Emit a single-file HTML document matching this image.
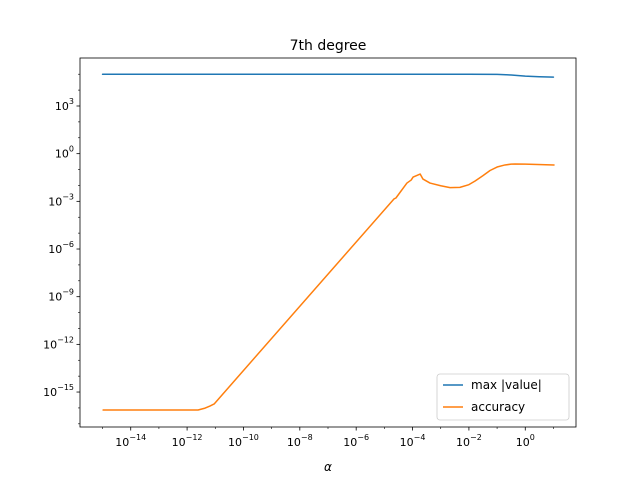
<!DOCTYPE html>
<html><head><meta charset="utf-8"><style>body{margin:0;background:#fff}svg{display:block}text{font-family:"DejaVu Sans","Liberation Sans",sans-serif}</style></head>
<body>
<svg id="chart" width="640" height="480" xmlns="http://www.w3.org/2000/svg"></svg>
<script>
const blueX=[-15,-2,-1,-0.5,0,0.5,1];
const blueY=[5.0,5.0,4.99,4.95,4.88,4.84,4.82];
const orangeX=[-14.98,-11.61,-11.36,-11.19,-11.04,-4.66,-4.59,-4.20,-4.05,-3.98,-3.73,-3.63,-3.38,-3.0,-2.67,-2.32,-2.0,-1.78,-1.5,-1.25,-1.0,-0.72,-0.5,-0.36,0,1.02];
const orangeY=[-16.13,-16.13,-16.01,-15.88,-15.75,-2.85,-2.79,-1.85,-1.66,-1.47,-1.28,-1.6,-1.85,-2.02,-2.14,-2.12,-1.95,-1.72,-1.38,-1.06,-0.84,-0.71,-0.66,-0.65,-0.66,-0.71];
const xTicks=[-14,-12,-10,-8,-6,-4,-2,0];
const yTicks=[3,0,-3,-6,-9,-12,-15];
const L=80,R=576,T=58,B=427,X0=-15.8,X1=1.8,Y0=-17.2,Y1=6.02;
const sx=v=>L+(v-X0)/(X1-X0)*(R-L);
const sy=v=>B-(v-Y0)/(Y1-Y0)*(B-T);
const svg=document.getElementById('chart');
const NS='http://www.w3.org/2000/svg';
function mk(t,a,p){const e=document.createElementNS(NS,t);for(const k in a)e.setAttribute(k,a[k]);(p||svg).appendChild(e);return e;}
let el=mk('text',{x:328,y:50,'text-anchor':'middle','font-size':14});el.textContent='7th degree';


function line(xs,ys,c,name){const d=xs.map((x,i)=>(i?'L':'M')+sx(x).toFixed(2)+','+sy(ys[i]).toFixed(2)).join('');
const p=mk('path',{d:d,fill:'none',stroke:c,'stroke-width':1.5,'stroke-linejoin':'round','stroke-linecap':'round'});

}
line(blueX,blueY,'#1f77b4','series-max-value');
line(orangeX,orangeY,'#ff7f0e','series-accuracy');
for(let d=-15;d<=1;d++){const x=sx(d);const maj=xTicks.includes(d);
mk('line',{x1:x,x2:x,y1:B,y2:B+(maj?3.5:2),stroke:'#000','stroke-width':maj?0.8:0.6});}
xTicks.forEach(v=>{const t=mk('text',{x:sx(v),y:B+19,'text-anchor':'middle','font-size':11});


t.innerHTML='10<tspan dy="-6" font-size="8">'+(v<0?'\u2212'+(-v):v)+'</tspan>';});
for(let d=-17;d<=5;d++){const y=sy(d);const maj=yTicks.includes(d);
mk('line',{x1:L,x2:L-(maj?3.5:2),y1:y,y2:y,stroke:'#000','stroke-width':maj?0.8:0.6});}
yTicks.forEach(v=>{const t=mk('text',{x:L-6,y:sy(v)+4,'text-anchor':'end','font-size':11});


t.innerHTML='10<tspan dy="-6" font-size="8">'+(v<0?'\u2212'+(-v):v)+'</tspan>';});
el=mk('rect',{x:L,y:T,width:R-L,height:B-T,fill:'none',stroke:'#000','stroke-width':0.8});


el=mk('text',{x:328,y:471,'text-anchor':'middle','font-size':12,'font-style':'italic'});el.textContent='α';


const g=mk('g',{});


mk('rect',{x:437,y:374,width:132,height:46,rx:3,fill:'#fff',stroke:'#ccc','stroke-width':0.8},g);
mk('line',{x1:443,x2:463,y1:385,y2:385,stroke:'#1f77b4','stroke-width':1.5},g);
mk('line',{x1:443,x2:463,y1:407,y2:407,stroke:'#ff7f0e','stroke-width':1.5},g);
let t=mk('text',{x:471,y:389,'font-size':12},g);t.textContent='max |value|';


t=mk('text',{x:471,y:411,'font-size':12},g);t.textContent='accuracy';


</script>
</body></html>
